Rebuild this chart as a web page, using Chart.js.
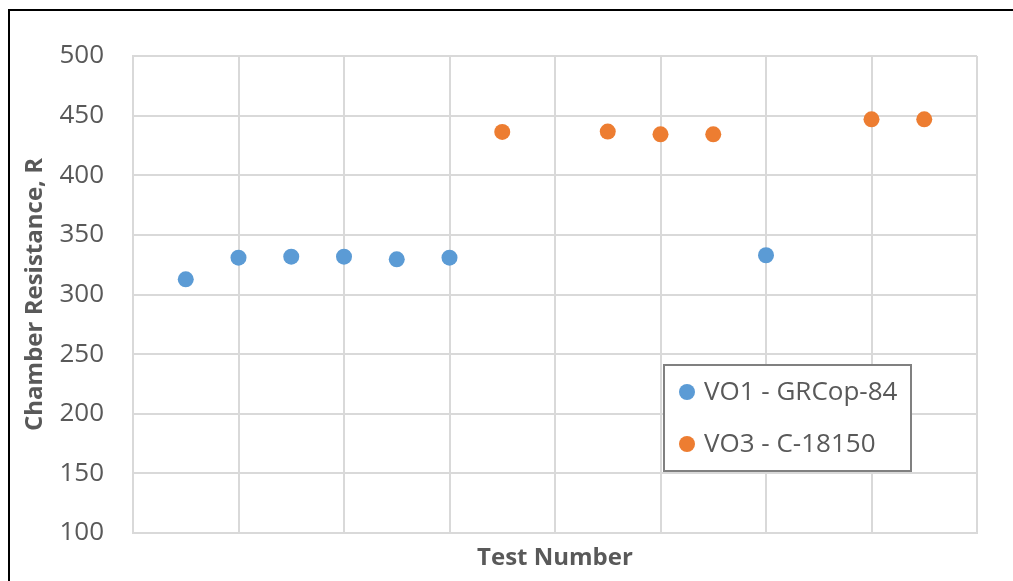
<!DOCTYPE html>
<html>
<head>
<meta charset="utf-8">
<script src="https://cdn.jsdelivr.net/npm/chart.js@4"></script>
<style>
  body { margin: 0; overflow: hidden; background: #fff; }
  #wrap { position: relative; width: 1013px; height: 581px; }
  #myChart { position: absolute; left: 0; top: 0; }
  .frame {
    position: absolute; left: 8px; top: 9px; width: 1200px; height: 800px;
    border-left: 2px solid #000; border-top: 2px solid #000; pointer-events: none;
  }
</style>
</head>
<body>
<div id="wrap">
  <canvas id="myChart" width="1013" height="581"></canvas>
  <div class="frame"></div>
</div>
<script>
// Test numbers and chamber resistance per chamber
const vo1Tests = [1, 2, 3, 4, 5, 6, 12];
const vo1Resistance = [312.7, 330.9, 331.7, 331.7, 329.5, 330.9, 332.9];
const vo3Tests = [7, 9, 10, 11, 14, 15];
const vo3Resistance = [436.3, 436.6, 434.3, 434.3, 446.9, 446.9];
const seriesNames = ["VO1 - GRCop-84", "VO3 - C-18150"];
const seriesColors = ["#5B9BD5", "#ED7D31"];
const yTicks = [100, 150, 200, 250, 300, 350, 400, 450, 500];

function toPoints(xs, ys) {
  return xs.map((x, i) => ({ x: x, y: ys[i] }));
}

// legend box drawn inside the plot, like the Excel one
const boxLegend = {
  id: "boxLegend",
  afterDatasetsDraw(chart) {
    const ctx = chart.ctx;
    const x = 664, y = 365, w = 247, h = 106;
    ctx.save();
    ctx.fillStyle = "#ffffff";
    ctx.fillRect(x, y, w, h);
    ctx.strokeStyle = "#808080";
    ctx.lineWidth = 2;
    ctx.strokeRect(x, y, w, h);
    ctx.font = "26px 'Open Sans'";
    ctx.textBaseline = "middle";
    chart.data.datasets.forEach((ds, i) => {
      const cy = y + 27 + i * 52;
      ctx.fillStyle = ds.backgroundColor;
      ctx.beginPath();
      ctx.arc(x + 23, cy, 8, 0, Math.PI * 2);
      ctx.fill();
      ctx.fillStyle = "#595959";
      ctx.fillText(ds.label, x + 40, cy + 1);
    });
    ctx.restore();
  },
};

Chart.defaults.font.family = "'Open Sans'";
Chart.defaults.color = "#595959";

const ctx = document.getElementById("myChart");
new Chart(ctx, {
  type: "scatter",
  data: {
    datasets: [
      {
        label: seriesNames[0],
        data: toPoints(vo1Tests, vo1Resistance),
        backgroundColor: seriesColors[0],
        borderWidth: 0,
        pointRadius: 8,
      },
      {
        label: seriesNames[1],
        data: toPoints(vo3Tests, vo3Resistance),
        backgroundColor: seriesColors[1],
        borderWidth: 0,
        pointRadius: 8,
      },
    ],
  },
  options: {
    responsive: false,
    animation: false,
    events: [],
    layout: { padding: { left: 0, top: 56, right: 36, bottom: 0 } },
    plugins: {
      legend: { display: false },
      tooltip: { enabled: false },
    },
    scales: {
      x: {
        type: "linear",
        min: 0,
        max: 16,
        ticks: { display: false, stepSize: 2 },
        grid: { color: "#d9d9d9", lineWidth: 2, drawTicks: false },
        border: { color: "#d9d9d9", width: 2 },
        title: {
          display: true,
          text: "Test Number",
          font: { size: 24, weight: "bold" },
          padding: { top: 0, bottom: 8 },
        },
        afterFit(scale) {
          scale.height = 48;
        },
      },
      y: {
        min: 100,
        max: 500,
        afterBuildTicks(scale) {
          scale.ticks = yTicks.map((v) => ({ value: v }));
        },
        ticks: { font: { size: 26 }, padding: 29 },
        grid: { color: "#d9d9d9", lineWidth: 2, drawTicks: false },
        border: { color: "#d9d9d9", width: 2 },
        title: {
          display: true,
          text: "Chamber Resistance, R",
          font: { size: 24, weight: "bold" },
          padding: { top: 21, bottom: 0 },
        },
        afterFit(scale) {
          scale.width = 133;
        },
      },
    },
  },
  plugins: [boxLegend],
});
</script>
</body>
</html>
